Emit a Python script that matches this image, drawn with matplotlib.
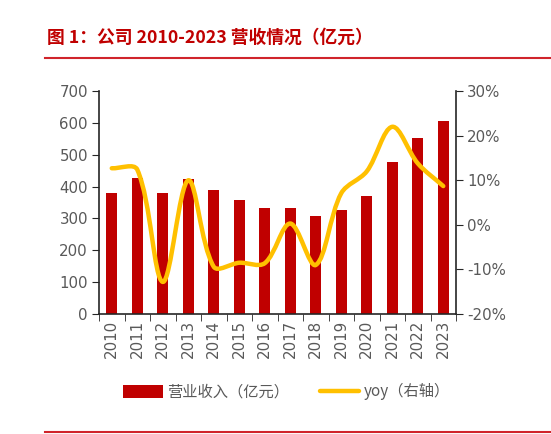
import numpy as np
import matplotlib
matplotlib.use("Agg")
import matplotlib.pyplot as plt
from matplotlib.path import Path
from matplotlib.patches import PathPatch, Patch
from matplotlib.lines import Line2D
import matplotlib.ticker as mtick

plt.rcParams['font.family'] = ['DejaVu Sans', 'Noto Sans CJK SC']

years = ['2010', '2011', '2012', '2013', '2014', '2015', '2016',
         '2017', '2018', '2019', '2020', '2021', '2022', '2023']
revenue = [379, 428, 379, 424, 389, 359, 333, 333, 307, 327, 371, 477, 552, 606]
yoy = [12.7, 12.4, -12.8, 10.0, -9.4, -8.5, -8.6, 0.3, -9.0, 7.1, 12.0, 22.0, 13.8, 8.7]

bar_color = '#C00000'
line_color = '#FFC000'
grey = '#595959'
cjk = ['Noto Sans CJK SC', 'DejaVu Sans']

fig = plt.figure(figsize=(5.51, 4.34), dpi=100)
ax = fig.add_axes([0.1797, 0.2765, 0.6479, 0.5135])

x = np.arange(len(years))
ax.bar(x, revenue, width=0.42, color=bar_color, zorder=2)
ax.set_xlim(-0.5, len(years) - 0.5)
ax.set_ylim(0, 700)
ax.set_yticks(range(0, 701, 100))
ax.set_xticks(x)
ax.set_xticklabels(years, rotation=90)
ax.set_xticks(np.arange(-0.5, len(years)), minor=True)
ax.tick_params(axis='x', which='major', length=0, pad=4, labelsize=10.8, labelcolor=grey)
ax.tick_params(axis='x', which='minor', length=5, direction='out', color='#262626')
ax.tick_params(axis='y', length=5, direction='out', labelsize=10.8, labelcolor=grey,
               color='#262626', pad=3)
ax.spines['top'].set_visible(False)
ax.spines['right'].set_visible(False)
for s in ['left', 'bottom']:
    ax.spines[s].set_color('#262626')
    ax.spines[s].set_linewidth(1.2)

ax2 = ax.twinx()
ax2.set_ylim(-20, 30)
ax2.set_yticks(range(-20, 31, 10))
ax2.yaxis.set_major_formatter(mtick.FuncFormatter(lambda v, p: '%d%%' % v))
ax2.tick_params(axis='y', length=5, direction='out', labelsize=10.8, labelcolor=grey,
                color='#262626', pad=3)
for s in ['top', 'left', 'bottom']:
    ax2.spines[s].set_visible(False)
ax2.spines['right'].set_color('#262626')
ax2.spines['right'].set_linewidth(1.2)

# smoothed line, bezier with tangents scaled by segment length (office-like smoothing)
ysc = (223 / 50.0) / (357 / 14.0)  # y-unit to x-unit ratio on screen
pts = np.column_stack([x, np.array(yoy) * ysc]).astype(float)
n = len(pts)
tang = []
for i in range(n):
    pa = pts[max(i - 1, 0)]
    pb = pts[min(i + 1, n - 1)]
    la = np.linalg.norm(pts[i] - pa)
    lb = np.linalg.norm(pb - pts[i])
    tang.append((pb - pa) / (la + lb))
verts = [tuple(pts[0])]
codes = [Path.MOVETO]
for i in range(n - 1):
    L = np.linalg.norm(pts[i + 1] - pts[i])
    c1 = pts[i] + tang[i] * L / 3.0
    c2 = pts[i + 1] - tang[i + 1] * L / 3.0
    verts += [tuple(c1), tuple(c2), tuple(pts[i + 1])]
    codes += [Path.CURVE4] * 3
verts = [(vx, vy / ysc) for vx, vy in verts]
ax2.add_patch(PathPatch(Path(verts, codes), facecolor='none', edgecolor=line_color,
                        lw=3.2, capstyle='round', joinstyle='round', zorder=3))

handles = [Patch(facecolor=bar_color, edgecolor='none'),
           Line2D([0], [0], color=line_color, lw=3.2, solid_capstyle='round')]
fig.legend(handles, ['营业收入（亿元）', 'yoy（右轴）'], loc='center',
           bbox_to_anchor=(0.52, 0.097), ncol=2, frameon=False,
           prop={'family': cjk, 'size': 11}, labelcolor=grey,
           handlelength=2.6, handleheight=0.9, handletextpad=0.3, columnspacing=2.0)

fig.text(0.085, 0.912, '图 1：公司 2010-2023 营收情况（亿元）', color='#C00000',
         fontsize=12.8, fontweight='bold', family=cjk, va='center', ha='left')
fig.add_artist(Line2D([0.082, 1.0], [0.866, 0.866], color='#D0242B', lw=1.5))
fig.add_artist(Line2D([0.082, 1.0], [0.005, 0.005], color='#D0242B', lw=1.5))

fig.savefig('out.png', dpi=100)
